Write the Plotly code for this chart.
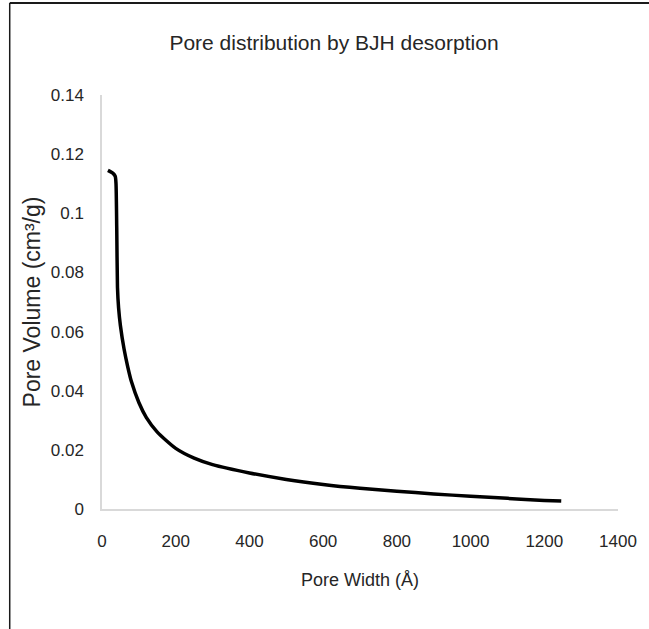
import plotly.graph_objects as go

# Data
pore_width = [16, 30, 36, 38, 40, 42, 45, 50, 60, 70, 80, 100, 120, 150, 200, 250, 300,
              400, 500, 600, 700, 800, 900, 1000, 1100, 1200, 1246]
pore_volume = [0.1145, 0.1135, 0.1125, 0.110, 0.095, 0.075, 0.068, 0.062, 0.054, 0.048,
               0.043, 0.036, 0.031, 0.026, 0.0205, 0.0172, 0.0150, 0.0122, 0.0100, 0.0083,
               0.0070, 0.0060, 0.0051, 0.0043, 0.0036, 0.0029, 0.0027]

x_ticks = [0, 200, 400, 600, 800, 1000, 1200, 1400]
y_ticks = [0, 0.02, 0.04, 0.06, 0.08, 0.1, 0.12, 0.14]
y_ticktext = ["0", "0.02", "0.04", "0.06", "0.08", "0.1", "0.12", "0.14"]

title_text = "Pore distribution by BJH desorption"
x_title = "Pore Width (Å)"
y_title = "Pore Volume (cm³/g)"

font_family = "Liberation Sans, Arial, sans-serif"
text_color = "#262626"

fig = go.Figure()
fig.add_trace(go.Scatter(
    x=pore_width, y=pore_volume, mode="lines",
    line=dict(color="#000000", width=3.5, shape="spline", smoothing=0.6),
    showlegend=False, hoverinfo="x+y",
))

W, H = 649, 629
L, R, T, B = 102, 27, 95, 120
pw, ph = W - L - R, H - T - B

def px_to_paper_x(px):
    return (px - L) / pw

def px_to_paper_y(py):
    return (H - B - py) / ph

fig.update_layout(
    width=W, height=H,
    margin=dict(l=L, r=R, t=T, b=B, pad=0),
    paper_bgcolor="white", plot_bgcolor="white",
    title=dict(text=title_text, x=334 / W, xanchor="center",
               y=1 - 43 / H, yanchor="middle", yref="container",
               font=dict(family=font_family, size=21, color=text_color)),
    xaxis=dict(range=[0, 1400], tickvals=x_ticks, showgrid=False, zeroline=False,
               showline=True, linecolor="#d9d9d9", linewidth=1.5, ticks="",
               ticklabelstandoff=16,
               tickfont=dict(family=font_family, size=17, color=text_color),
               title=dict(text=x_title, standoff=23,
                          font=dict(family=font_family, size=18, color=text_color))),
    yaxis=dict(range=[0, 0.14], tickvals=y_ticks, ticktext=y_ticktext, showgrid=False,
               zeroline=False, showline=True, linecolor="#d9d9d9", linewidth=1.5,
               ticks="", ticklabelstandoff=13,
               tickfont=dict(family=font_family, size=17, color=text_color),
               title=dict(text=y_title, standoff=4,
                          font=dict(family=font_family, size=23, color=text_color))),
    shapes=[
        dict(type="line", xref="paper", yref="paper",
             x0=px_to_paper_x(9), x1=px_to_paper_x(W + 5), y0=px_to_paper_y(3), y1=px_to_paper_y(3),
             line=dict(color="#1a1a1a", width=2)),
        dict(type="line", xref="paper", yref="paper",
             x0=px_to_paper_x(9), x1=px_to_paper_x(9), y0=px_to_paper_y(3), y1=px_to_paper_y(H + 5),
             line=dict(color="#1a1a1a", width=1.5)),
    ],
)

fig.write_html("out.html")
